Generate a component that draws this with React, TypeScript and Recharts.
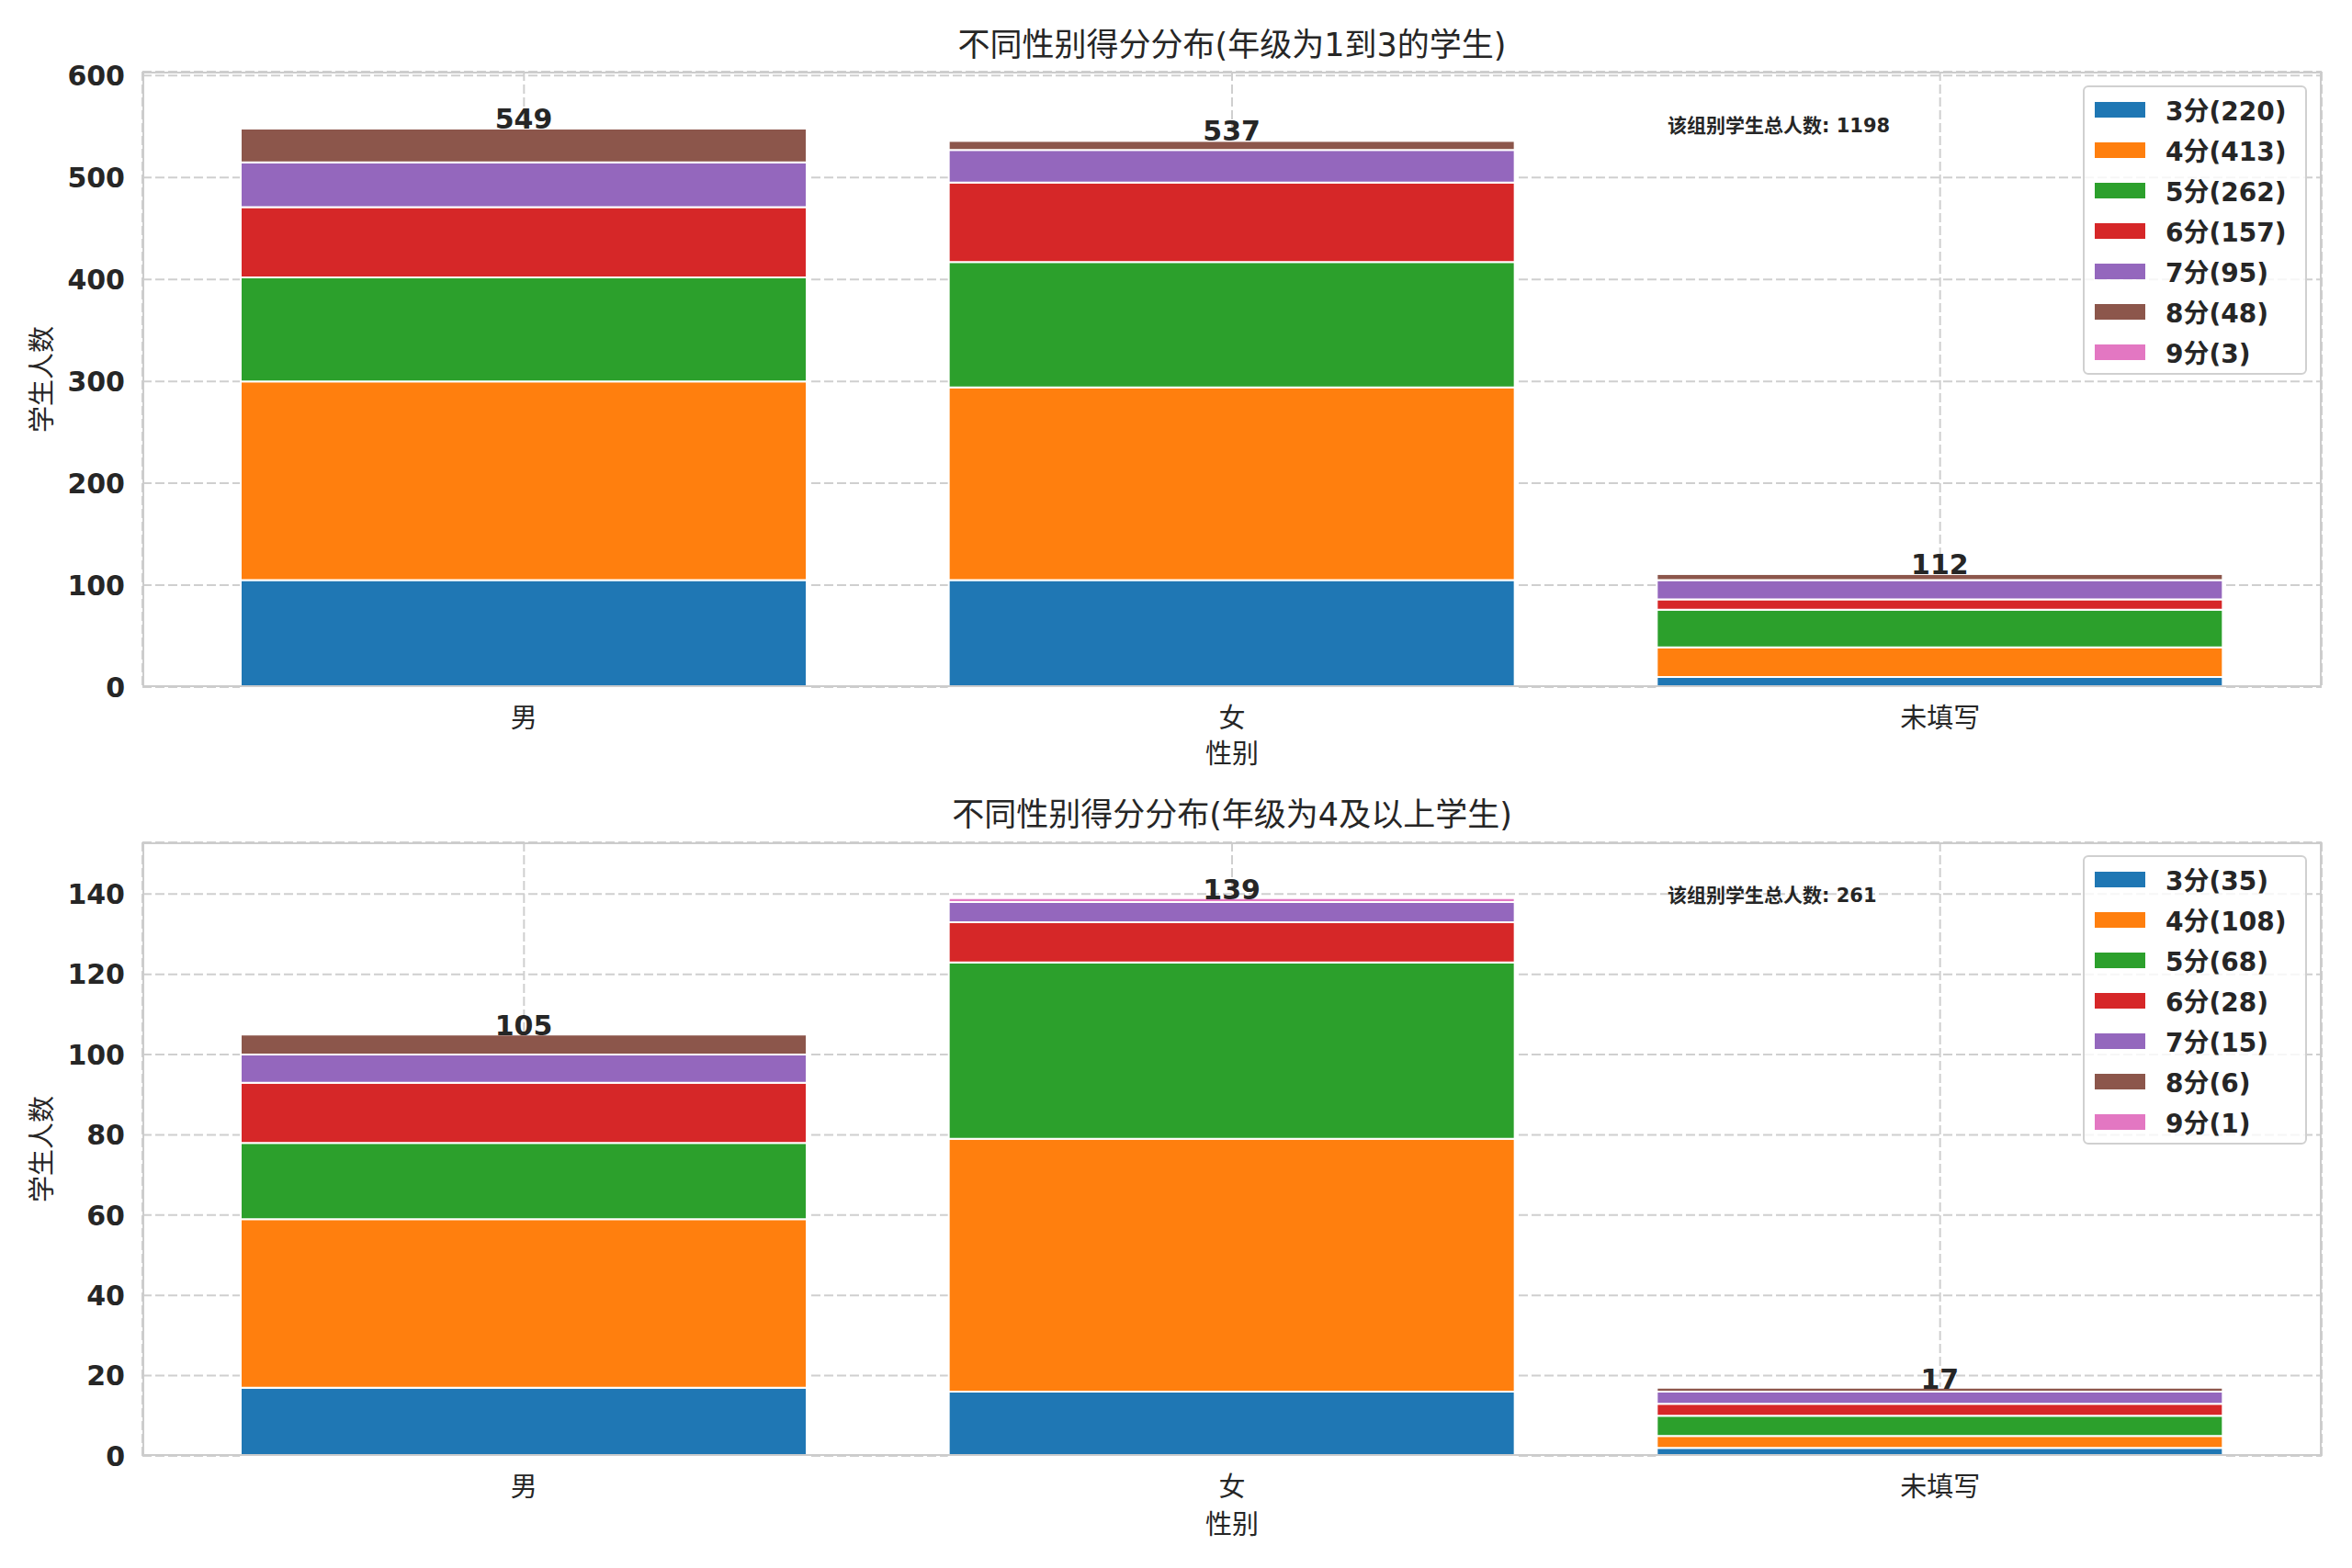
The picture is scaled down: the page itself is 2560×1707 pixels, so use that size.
import { BarChart, Bar, XAxis, YAxis, CartesianGrid, Legend, LabelList } from 'recharts';

// categories and score levels
const genders = ['男', '女', '未填写'];
const levels = ['3分', '4分', '5分', '6分', '7分', '8分', '9分'];
const colors = ['#1f77b4', '#ff7f0e', '#2ca02c', '#d62728', '#9467bd', '#8c564b', '#e377c2'];

// grades 1-3, counts per gender (男, 女, 未填写)
const lower3 = [105, 105, 10];
const lower4 = [195, 189, 29];
const lower5 = [102, 123, 37];
const lower6 = [69, 78, 10];
const lower7 = [44, 32, 19];
const lower8 = [33, 9, 6];
const lower9 = [1, 1, 1];

// grade 4 and above
const upper3 = [17, 16, 2];
const upper4 = [42, 63, 3];
const upper5 = [19, 44, 5];
const upper6 = [15, 10, 3];
const upper7 = [7, 5, 3];
const upper8 = [5, 0, 1];
const upper9 = [0, 1, 0];

const lowerTicks = [0, 100, 200, 300, 400, 500, 600];
const upperTicks = [0, 20, 40, 60, 80, 100, 120, 140];

const lowerSeries = [lower3, lower4, lower5, lower6, lower7, lower8, lower9];
const upperSeries = [upper3, upper4, upper5, upper6, upper7, upper8, upper9];

const FONT = "'DejaVu Sans', 'Noto Sans CJK SC', sans-serif";
const INK = '#262626';

function buildRows(series: number[][]) {
  return genders.map((g, i) => {
    const row: any = { gender: g };
    levels.forEach((lv, k) => {
      row[lv] = series[k][i];
    });
    return row;
  });
}

const LegendBox = ({ payload }: any) => (
  <div
    style={{
      width: 244,
      height: 315,
      boxSizing: 'border-box',
      border: '2px solid #d0d0d0',
      borderRadius: 6,
      background: 'rgba(255,255,255,0.8)',
      paddingTop: 2,
      fontFamily: FONT,
    }}
  >
    {(payload || []).map((p: any) => (
      <div key={p.value} style={{ height: 44, display: 'flex', alignItems: 'center', whiteSpace: 'nowrap' }}>
        <div style={{ width: 55, height: 17, marginLeft: 11, background: p.color, flexShrink: 0 }} />
        <span style={{ marginLeft: 22, fontSize: 28, fontWeight: 'bold', color: INK }}>{p.value}</span>
      </div>
    ))}
  </div>
);

function StackedPanel({ series, ticks, top, height, plotTop, plotBottom, legendTop }: any) {
  const rows = buildRows(series);
  const totals = genders.map((_, i) => series.reduce((s: number, arr: number[]) => s + arr[i], 0));
  const yMax = Math.max(...totals) * 1.1;

  // total drawn above the topmost non-empty segment of each bar
  const makeTotalLabel = (k: number) => (props: any) => {
    const { x, y, width, value } = props;
    const i = genders.indexOf(value);
    if (i < 0 || series[k][i] <= 0) return null;
    for (let j = k + 1; j < series.length; j++) {
      if (series[j][i] > 0) return null;
    }
    return (
      <text
        x={x + width / 2}
        y={y + 1}
        textAnchor="middle"
        fontFamily={FONT}
        fontSize={30}
        fontWeight="bold"
        fill={INK}
      >
        {totals[i]}
      </text>
    );
  };

  return (
    <div style={{ position: 'absolute', left: 0, top }}>
      <BarChart
        width={2560}
        height={height}
        data={rows}
        margin={{ top: plotTop, right: 33, left: 0, bottom: 0 }}
      >
        <CartesianGrid stroke="#cfcfcf" strokeWidth={2} strokeDasharray="10 4" />
        <XAxis
          dataKey="gender"
          height={height - plotBottom}
          padding={{ left: 30, right: 30 }}
          axisLine={false}
          tickLine={false}
          tickSize={0}
          tickMargin={23}
          tick={{ fontSize: 29, fill: INK, fontFamily: FONT }}
        />
        <YAxis
          width={155}
          domain={[0, yMax]}
          ticks={ticks}
          axisLine={false}
          tickLine={false}
          tickSize={0}
          tickMargin={19}
          tick={{ fontSize: 30, fill: INK, fontFamily: FONT, fontWeight: 'bold' }}
        />
        <Legend
          layout="vertical"
          align="center"
          verticalAlign="middle"
          content={<LegendBox />}
          wrapperStyle={{ left: 2267, top: legendTop, width: 244, height: 315 }}
        />
        {levels.map((lv, k) => {
          const sum = series[k].reduce((a: number, b: number) => a + b, 0);
          const TotalLabel = makeTotalLabel(k);
          return (
            <Bar
              key={lv}
              dataKey={lv}
              name={`${lv}(${sum})`}
              stackId="s"
              fill={colors[k]}
              stroke="#ffffff"
              strokeWidth={2}
              barSize={616}
              isAnimationActive={false}
            >
              <LabelList dataKey="gender" content={<TotalLabel />} />
            </Bar>
          );
        })}
      </BarChart>
    </div>
  );
}

const textStyle: any = { position: 'absolute', fontFamily: FONT, color: INK, whiteSpace: 'nowrap' };

export default function App() {
  return (
    <div style={{ position: 'absolute', left: 0, top: 0, width: 2560, height: 1707, background: '#fff' }}>
      <StackedPanel series={lowerSeries} ticks={lowerTicks} top={0} height={840} plotTop={78} plotBottom={748} legendTop={93} />
      <StackedPanel series={upperSeries} ticks={upperTicks} top={840} height={867} plotTop={77} plotBottom={745} legendTop={91} />

      {/* axes frames */}
      <div style={{ position: 'absolute', left: 155, top: 78, width: 2372, height: 670, border: '2px solid #cccccc', boxSizing: 'border-box', pointerEvents: 'none' }} />
      <div style={{ position: 'absolute', left: 155, top: 917, width: 2372, height: 668, border: '2px solid #cccccc', boxSizing: 'border-box', pointerEvents: 'none' }} />

      {/* titles */}
      <div style={{ ...textStyle, left: 155, width: 2372, top: 27, lineHeight: '44px', fontSize: 35, textAlign: 'center' }}>
        不同性别得分分布(年级为1到3的学生)
      </div>
      <div style={{ ...textStyle, left: 155, width: 2372, top: 865, lineHeight: '44px', fontSize: 35, textAlign: 'center' }}>
        不同性别得分分布(年级为4及以上学生)
      </div>

      {/* x axis labels */}
      <div style={{ ...textStyle, left: 155, width: 2372, top: 803, lineHeight: '36px', fontSize: 29, textAlign: 'center' }}>性别</div>
      <div style={{ ...textStyle, left: 155, width: 2372, top: 1642, lineHeight: '36px', fontSize: 29, textAlign: 'center' }}>性别</div>

      {/* y axis labels */}
      <div style={{ ...textStyle, left: 46 - 100, top: 413 - 18, width: 200, lineHeight: '36px', fontSize: 29, textAlign: 'center', transform: 'rotate(-90deg)' }}>学生人数</div>
      <div style={{ ...textStyle, left: 46 - 100, top: 1251 - 18, width: 200, lineHeight: '36px', fontSize: 29, textAlign: 'center', transform: 'rotate(-90deg)' }}>学生人数</div>

      {/* notes */}
      <div style={{ ...textStyle, left: 1815, top: 124, lineHeight: '26px', fontSize: 21, fontWeight: 'bold' }}>该组别学生总人数: 1198</div>
      <div style={{ ...textStyle, left: 1815, top: 962, lineHeight: '26px', fontSize: 21, fontWeight: 'bold' }}>该组别学生总人数: 261</div>
    </div>
  );
}
